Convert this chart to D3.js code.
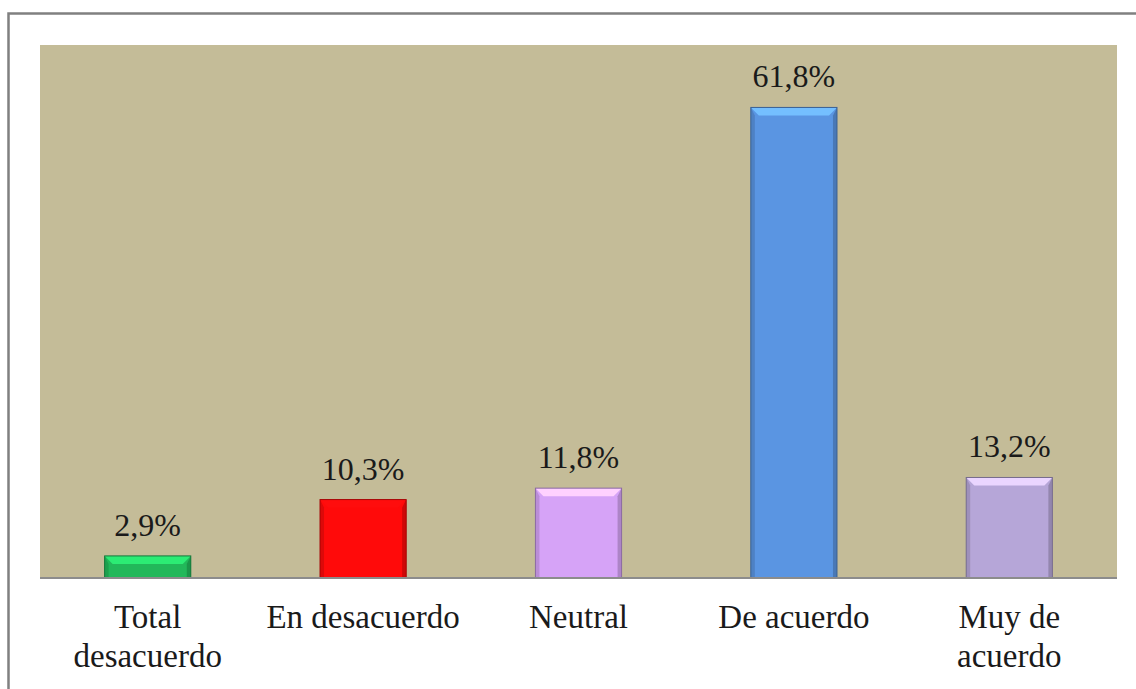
<!DOCTYPE html>
<html>
<head>
<meta charset="utf-8">
<script src="https://cdn.jsdelivr.net/npm/d3@7"></script>
<style>
  body { margin: 0; background: #fff; }
  text { font-family: "Liberation Serif", "Times New Roman", serif; fill: #1a1a1a; }
</style>
</head>
<body>
<script>
var w = 1136, h = 689;

var categories = ["Total desacuerdo", "En desacuerdo", "Neutral", "De acuerdo", "Muy de acuerdo"];
var catLines = [["Total", "desacuerdo"], ["En desacuerdo"], ["Neutral"], ["De acuerdo"], ["Muy de", "acuerdo"]];
var values = [2.9, 10.3, 11.8, 61.8, 13.2];
var labels = ["2,9%", "10,3%", "11,8%", "61,8%", "13,2%"];
var colors = ["#22b85a", "#ff0a0a", "#d6a3f7", "#5a95e2", "#b6a6d8"];

var plot = {left: 40, right: 1117, top: 45, bottom: 578};

var svg = d3.select("body").append("svg")
    .attr("width", w)
    .attr("height", h);

// outer frame
svg.append("rect")
    .attr("x", 8.5).attr("y", 13.5)
    .attr("width", w).attr("height", h)
    .attr("fill", "none")
    .attr("stroke", "#808080")
    .attr("stroke-width", 2.5);

// plot area
svg.append("rect")
    .attr("x", plot.left).attr("y", plot.top)
    .attr("width", plot.right - plot.left)
    .attr("height", plot.bottom - plot.top)
    .attr("fill", "#c4bc98");

var x = d3.scaleBand()
    .domain(categories)
    .range([plot.left, plot.right])
    .paddingInner(0.6)
    .paddingOuter(0.3);

var y = d3.scaleLinear()
    .domain([0, 70])
    .range([plot.bottom, plot.top]);

// bars with bevel
var bars = svg.selectAll("g.bar")
    .data(values)
    .enter().append("g")
    .attr("class", "bar");

bars.each(function (d, i) {
    var g = d3.select(this);
    var x0 = x(categories[i]), x1 = x0 + x.bandwidth();
    var y0 = y(d), y1 = y(0);
    var b = Math.min(8, (y1 - y0) / 2.5);
    var c = d3.color(colors[i]);
    g.append("rect")
        .attr("x", x0).attr("y", y0)
        .attr("width", x1 - x0).attr("height", y1 - y0)
        .attr("fill", colors[i]);
    // top highlight
    g.append("polygon")
        .attr("points", [[x0, y0], [x1, y0], [x1 - b, y0 + b], [x0 + b, y0 + b]].join(" "))
        .attr("fill", c.brighter(0.7));
    // left side
    g.append("polygon")
        .attr("points", [[x0, y0], [x0 + b * 0.5, y0 + b], [x0 + b * 0.5, y1], [x0, y1]].join(" "))
        .attr("fill", c.darker(0.4));
    // right side
    g.append("polygon")
        .attr("points", [[x1, y0], [x1 - b * 0.5, y0 + b], [x1 - b * 0.5, y1], [x1, y1]].join(" "))
        .attr("fill", c.darker(0.6));
    g.append("rect")
        .attr("x", x0).attr("y", y0)
        .attr("width", x1 - x0).attr("height", y1 - y0)
        .attr("fill", "none")
        .attr("stroke", c.darker(1.2))
        .attr("stroke-width", 1);
});

// value labels
svg.selectAll("text.val")
    .data(values)
    .enter().append("text")
    .attr("class", "val")
    .attr("x", function (d, i) { return x(categories[i]) + x.bandwidth() / 2; })
    .attr("y", function (d) { return y(d) - 20; })
    .attr("text-anchor", "middle")
    .attr("font-size", 32)
    .text(function (d, i) { return labels[i]; });

// axis line
svg.append("line")
    .attr("x1", plot.left).attr("x2", plot.right)
    .attr("y1", plot.bottom).attr("y2", plot.bottom)
    .attr("stroke", "#8c8c8c")
    .attr("stroke-width", 2);

// category labels
var cats = svg.selectAll("text.cat")
    .data(catLines)
    .enter().append("text")
    .attr("class", "cat")
    .attr("text-anchor", "middle")
    .attr("font-size", 33)
    .attr("x", function (d, i) { return x(categories[i]) + x.bandwidth() / 2; })
    .attr("y", 628);

cats.selectAll("tspan")
    .data(function (d) { return d; })
    .enter().append("tspan")
    .attr("x", function () { return d3.select(this.parentNode).attr("x"); })
    .attr("dy", function (d, j) { return j === 0 ? 0 : 39; })
    .text(function (d) { return d; });
</script>
</body>
</html>
